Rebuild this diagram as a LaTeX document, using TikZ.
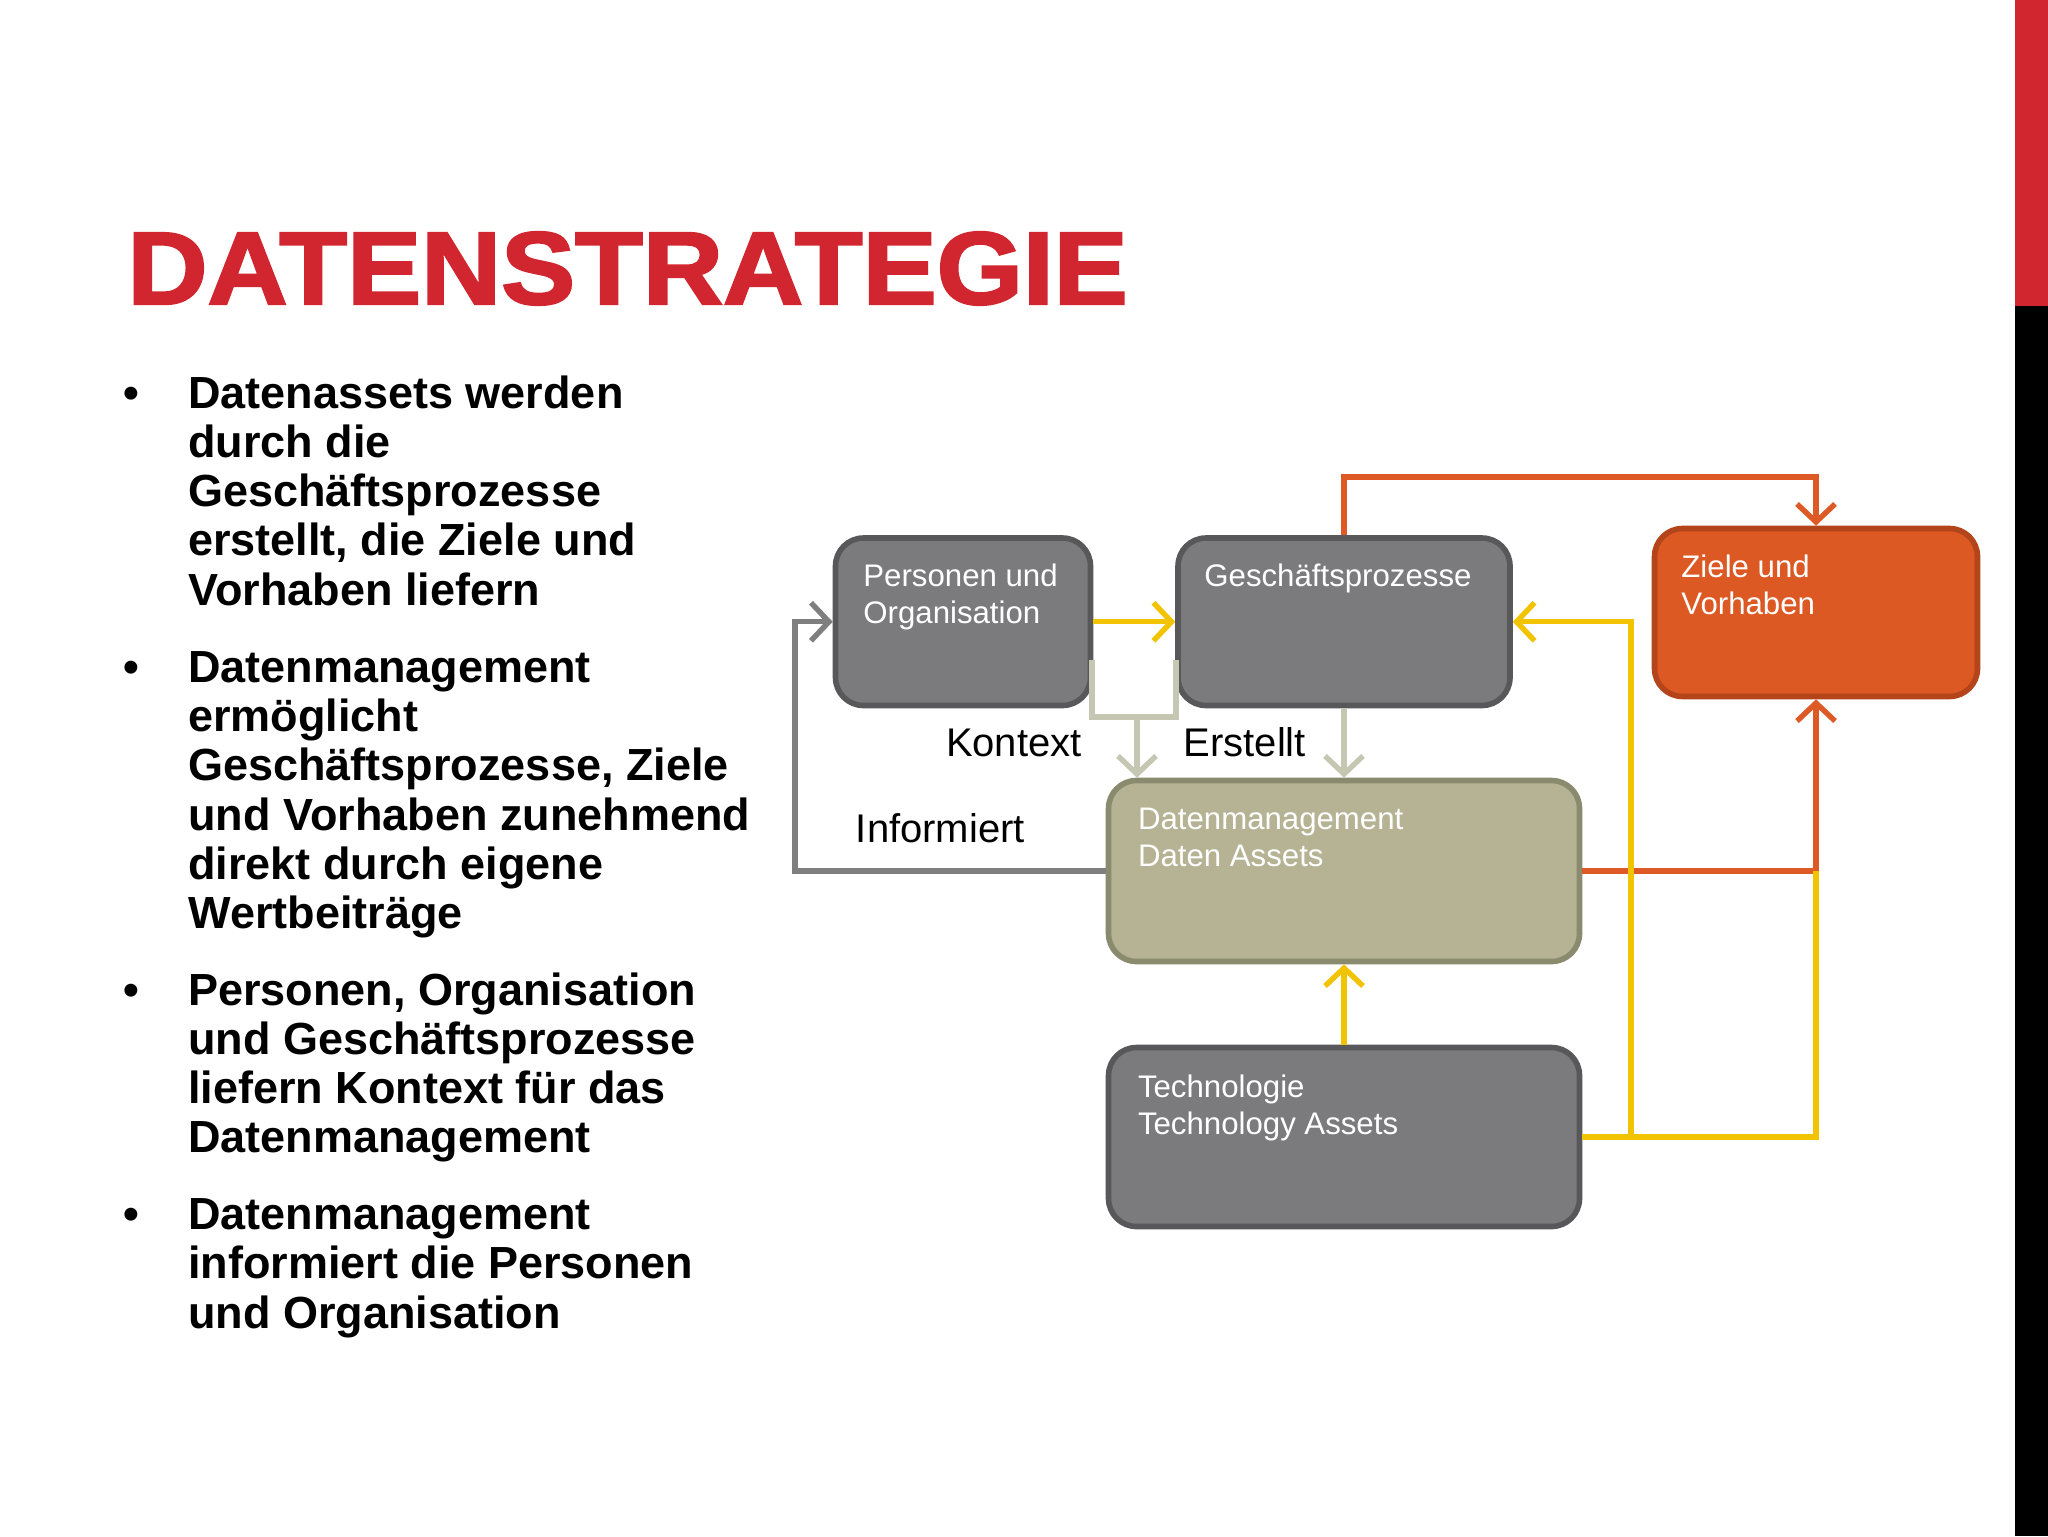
\documentclass[tikz,border=0pt]{standalone}
\usepackage{fontspec}
\setmainfont{Liberation Sans}
\newfontfamily\titlefont[FakeBold=2.2]{Liberation Sans Bold}
\usetikzlibrary{arrows.meta,calc}
\definecolor{titlered}{RGB}{209,38,47}
\definecolor{boxgray}{RGB}{123,122,125}
\definecolor{boxgrayb}{RGB}{88,87,90}
\definecolor{dmfill}{RGB}{181,179,148}
\definecolor{dmborder}{RGB}{138,138,110}
\definecolor{zfill}{RGB}{220,89,36}
\definecolor{zborder}{RGB}{180,68,26}
\definecolor{lyellow}{RGB}{242,195,0}
\definecolor{lorange}{RGB}{221,90,38}
\definecolor{lbeige}{RGB}{198,199,178}
\definecolor{lgray}{RGB}{127,127,127}
\begin{document}
\begin{tikzpicture}[x=0.5pt,y=-0.5pt,
  card/.style={rectangle, rounded corners=14pt, line width=2.8pt, inner sep=0pt},
  graycard/.style={card, fill=boxgray, draw=boxgrayb},
  dmcard/.style={card, fill=dmfill, draw=dmborder},
  zcard/.style={card, fill=zfill, draw=zborder},
  cardtext/.style={anchor=base west, inner sep=0pt, text=white, align=left,
    font=\fontsize{15.6pt}{18.95pt}\selectfont},
  lbl/.style={anchor=base west, inner sep=0pt, text=black,
    font=\fontsize{20pt}{24pt}\selectfont},
  bultext/.style={anchor=base west, inner sep=0pt, align=left,
    font=\fontsize{22.5pt}{24.6pt}\selectfont\bfseries},
  bulmark/.style={anchor=base, inner sep=0pt, font=\fontsize{22.5pt}{24.6pt}\selectfont\bfseries},
  conn/.style={line width=2.7pt},
  arr/.style={-{Straight Barb[length=9pt,width=19pt]}},
]
\useasboundingbox (0,0) rectangle (2048,1536);
\fill[white] (0,0) rectangle (2048,1536);
% right bar
\fill[titlered] (2015,0) rectangle (2048,306);
\fill[black] (2015,306) rectangle (2048,1536);
% title
\node[anchor=base west, inner sep=0pt, text=titlered] (title) at (127,304)
  {\resizebox{500pt}{36pt}{\titlefont DATENSTRATEGIE}};
% bullets (anchored at the baseline of the last line)
\node[bulmark] (m1) at (131,408.2) {•};
\node[bultext] (b1) at (188,605) {Datenassets werden\\durch die\\Geschäftsprozesse\\erstellt, die Ziele und\\Vorhaben liefern};
\node[bulmark] (m2) at (131,682.4) {•};
\node[bultext] (b2) at (188,928.4) {Datenmanagement\\ermöglicht\\Geschäftsprozesse, Ziele\\und Vorhaben zunehmend\\direkt durch eigene\\Wertbeiträge};
\node[bulmark] (m3) at (131,1005) {•};
\node[bultext] (b3) at (188,1152.6) {Personen, Organisation\\und Geschäftsprozesse\\liefern Kontext für das\\Datenmanagement};
\node[bulmark] (m4) at (131,1229.7) {•};
\node[bultext] (b4) at (188,1328.1) {Datenmanagement\\informiert die Personen\\und Organisation};
% boxes
\node[graycard, minimum width=127.5pt, minimum height=83.75pt] (P) at (963,621.75) {};
\node[graycard, minimum width=166pt, minimum height=83.75pt] (G) at (1344,621.75) {};
\node[zcard, minimum width=161.5pt, minimum height=84pt] (Z) at (1816,612.5) {};
\node[dmcard, minimum width=235.5pt, minimum height=90.5pt] (DM) at (1344,871) {};
\node[graycard, minimum width=235.5pt, minimum height=89.5pt] (T) at (1344,1137) {};
% box texts (anchored at the baseline of the last line)
\node[cardtext] (Pt) at (863,623.9) {Personen und\\Organisation};
\node[cardtext] (Gt) at (1204,586) {Geschäftsprozesse};
\node[cardtext] (Zt) at (1681,614.9) {Ziele und\\Vorhaben};
\node[cardtext] (DMt) at (1137.6,866.9) {Datenmanagement\\Daten Assets};
\node[cardtext] (Tt) at (1137.6,1134.9) {Technologie\\Technology Assets};
% labels
\node[lbl] (kontext) at (945.6,756) {Kontext};
\node[lbl] (erstellt) at (1183.3,756) {Erstellt};
\node[lbl] (informiert) at (855.5,842) {Informiert};
% coordinates
\coordinate (k1) at (1092,660);
\coordinate (k2) at (1176,660);
\coordinate (kb) at (1137,717);
\coordinate (otop) at (1816,477);
\coordinate (join) at (1816,871);
\coordinate (ty) at (1631,1137);
\coordinate (infl) at (795,871);
% connectors
\draw[conn, lyellow, arr] (P.east) -- (G.west);
\draw[conn, lbeige] (k1) |- (kb) -| (k2);
\draw[conn, lbeige, arr] (kb) -- (kb |- DM.north);
\draw[conn, lbeige, arr] (G.south) -- (DM.north);
\draw[conn, lorange, arr] (G.north) |- (otop) -- (Z.north);
\draw[conn, lorange, arr] (DM.east) -| (Z.south);
\draw[conn, lyellow] (T.east) -| (join);
\draw[conn, lyellow, arr] (ty) |- (G.east);
\draw[conn, lyellow, arr] (T.north) -- (DM.south);
\draw[conn, lgray, arr] (DM.west) -- (infl) |- (P.west);
\end{tikzpicture}
\end{document}
